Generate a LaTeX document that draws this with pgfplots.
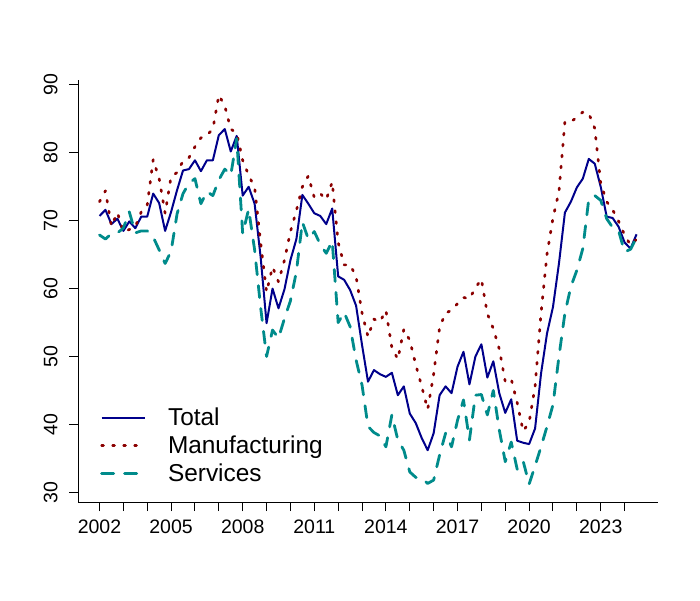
\documentclass[border=0pt]{standalone}
\usepackage{fontspec}
\setmainfont{Liberation Sans}
\usepackage{pgfplots}
\pgfplotsset{compat=1.18}
\usepackage{pgfplotstable}

\definecolor{totcol}{HTML}{00008B}
\definecolor{mancol}{HTML}{8B0000}
\definecolor{sercol}{HTML}{008B8B}

% quarterly index, 2002Q1 - 2024Q3
\pgfplotstableread{
x       total manuf serv
2002.00 70.7  72.8  67.9
2002.25 71.6  74.4  67.3
2002.50 69.5  69.2  68.1
2002.75 70.3  71.2  68.2
2003.00 68.5  68.4  68.9
2003.25 69.9  68.7  71.3
2003.50 68.9  69.1  68.2
2003.75 70.6  71.3  68.5
2004.00 70.6  72.3  68.5
2004.25 74.0  79.0  67.6
2004.50 72.6  76.2  65.7
2004.75 68.5  71.1  63.7
2005.00 71.3  76.5  65.5
2005.25 74.5  77.1  71.0
2005.50 77.4  78.8  74.0
2005.75 77.6  79.3  75.5
2006.00 78.9  80.9  76.2
2006.25 77.3  82.2  72.5
2006.50 78.9  82.6  74.3
2006.75 78.9  83.5  73.7
2007.00 82.6  88.5  76.0
2007.25 83.5  86.9  77.6
2007.50 80.2  83.5  76.7
2007.75 82.5  82.9  82.1
2008.00 73.7  78.9  68.1
2008.25 75.0  76.7  71.7
2008.50 72.5  74.9  65.7
2008.75 64.7  66.8  57.3
2009.00 54.9  59.5  50.0
2009.25 60.0  63.2  53.9
2009.50 57.1  61.0  52.7
2009.75 59.9  64.2  55.6
2010.00 64.2  68.4  58.2
2010.25 67.3  71.5  62.5
2010.50 73.8  75.0  69.8
2010.75 72.5  76.6  67.3
2011.00 71.1  73.4  68.4
2011.25 70.7  74.0  66.5
2011.50 69.5  73.1  65.2
2011.75 71.8  75.7  67.0
2012.00 61.8  66.8  55.0
2012.25 61.3  63.5  56.5
2012.50 59.8  63.5  54.4
2012.75 57.5  61.8  49.5
2013.00 51.7  56.4  45.8
2013.25 46.3  52.9  39.7
2013.50 48.0  55.5  38.8
2013.75 47.4  55.1  38.3
2014.00 47.0  56.8  36.7
2014.25 47.6  51.3  41.4
2014.50 44.3  49.6  37.7
2014.75 45.6  54.0  36.2
2015.00 41.6  52.4  33.0
2015.25 40.2  48.8  32.2
2015.50 38.0  45.6  32.1
2015.75 36.2  42.2  31.3
2016.00 38.7  47.4  31.8
2016.25 44.3  54.3  35.5
2016.50 45.6  56.4  38.7
2016.75 44.6  56.8  36.7
2017.00 48.5  57.8  40.6
2017.25 50.7  58.7  43.6
2017.50 45.9  58.5  37.7
2017.75 50.0  60.1  44.3
2018.00 51.8  61.4  44.4
2018.25 46.9  56.3  41.4
2018.50 49.3  54.1  45.0
2018.75 44.6  51.1  39.2
2019.00 41.7  46.3  34.5
2019.25 43.7  46.7  37.4
2019.50 37.6  43.2  33.4
2019.75 37.3  39.0  34.6
2020.00 37.1  40.3  31.2
2020.25 39.4  45.6  33.9
2020.50 47.5  56.4  36.7
2020.75 53.4  65.1  39.7
2021.00 57.3  70.4  42.9
2021.25 63.7  74.3  50.0
2021.50 71.2  84.6  56.4
2021.75 72.8  84.6  60.3
2022.00 74.9  85.2  62.7
2022.25 76.2  86.0  65.9
2022.50 79.1  85.8  73.2
2022.75 78.4  83.6  73.7
2023.00 75.0  75.5  73.0
2023.25 70.6  72.8  70.3
2023.50 70.4  71.6  69.0
2023.75 69.1  69.9  68.5
2024.00 66.8  67.9  65.4
2024.25 65.9  66.4  65.8
2024.50 68.0  67.3  67.5
}\pmidata

\begin{document}
\begin{tikzpicture}
\path[use as bounding box] (0pt,0pt) rectangle (700pt,600pt);
\begin{axis}[
    at={(78pt,98pt)}, anchor=south west,
    scale only axis,
    width=580pt, height=422.5pt,
    xmin=2001.1, xmax=2025.4,
    ymin=28.57, ymax=90.8,
    axis x line*=bottom, axis y line*=left,
    axis line style={line width=1pt, -},
    xtick={2002,2005,...,2023},
    minor xtick={2002,...,2024},
    ytick={30,40,...,90},
    tick align=outside,
    major tick length=9pt, minor tick length=9pt,
    every tick/.style={black, line width=1pt},
    every minor tick/.style={black, line width=1pt},
    tick label style={font=\fontsize{19.5}{23}\selectfont},
    /pgf/number format/assume math mode=true,
    /pgf/number format/1000 sep={},
    xticklabel style={yshift=-5pt},
    yticklabel style={rotate=90, anchor=south, yshift=8pt},
    legend cell align=left,
    legend style={
        draw=none, fill=none, inner sep=0pt,
        at={(axis description cs:0.038,0.035)}, anchor=south west,
        nodes={inner sep=0pt, text height=17.5pt, text depth=5.5pt,
               font=\fontsize{24.4}{28}\selectfont},
        cells={anchor=base west},
        row sep=5pt, column sep=22pt,
    },
    legend image code/.code={\draw[#1] (0pt,8pt) -- (43pt,8pt);},
]
\addplot[totcol, line width=2pt, line join=round]
    table[x=x, y=total] {\pmidata};
\addlegendentry{Total}
\addplot[mancol, line width=2.7pt, line cap=round, line join=round,
         dash pattern=on 1.8pt off 9.2pt]
    table[x=x, y=manuf] {\pmidata};
\addlegendentry{Manufacturing}
\addplot[sercol, line width=2.8pt, line cap=round, line join=round,
         dash pattern=on 12pt off 11pt]
    table[x=x, y=serv] {\pmidata};
\addlegendentry{Services}
\end{axis}
\end{tikzpicture}
\end{document}
